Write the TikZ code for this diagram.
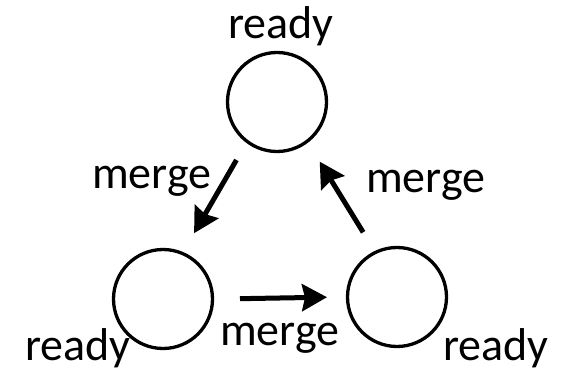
\documentclass[tikz,border=0pt]{standalone}
\usepackage{fontspec}
\setmainfont{Carlito}
\usetikzlibrary{arrows.meta}
\begin{document}
\begin{tikzpicture}[x=1pt,y=-1pt,
  state/.style={circle,draw,line width=3.3pt,minimum size=99pt,inner sep=0pt},
  lbl/.style={anchor=base west,inner sep=0pt,font=\fontsize{46}{50}\selectfont},
  flow/.style={line width=5pt,-{Stealth[length=25pt,width=27pt,inset=3pt]}}]
  \useasboundingbox (0,0) rectangle (562,371);
  % the three states
  \node[state] (top) at (277,102) {};
  \node[state] (bl) at (163,299) {};
  \node[state] (br) at (397,297) {};
  % state labels
  \node[lbl] (ltop) at (228,39) {ready};
  \node[lbl] (lbl) at (25,360) {ready};
  \node[lbl] (lbr) at (443,360) {ready};
  % merge transitions
  \draw[flow,shorten <=67pt,shorten >=76pt]
    ([xshift=-7pt]top.center) -- ([xshift=-7pt]bl.center);
  \draw[flow,shorten <=77pt,shorten >=70pt]
    ([yshift=-1pt]bl.center) -- ([yshift=1pt]br.center);
  \draw[flow,shorten <=76pt,shorten >=70pt]
    ([xshift=6pt]br.center) -- ([xshift=6pt]top.center);
  % transition labels
  \node[lbl] (mleft) at (92,189) {merge};
  \node[lbl] (mright) at (366,193) {merge};
  \node[lbl] (mbottom) at (220,345) {merge};
\end{tikzpicture}
\end{document}
